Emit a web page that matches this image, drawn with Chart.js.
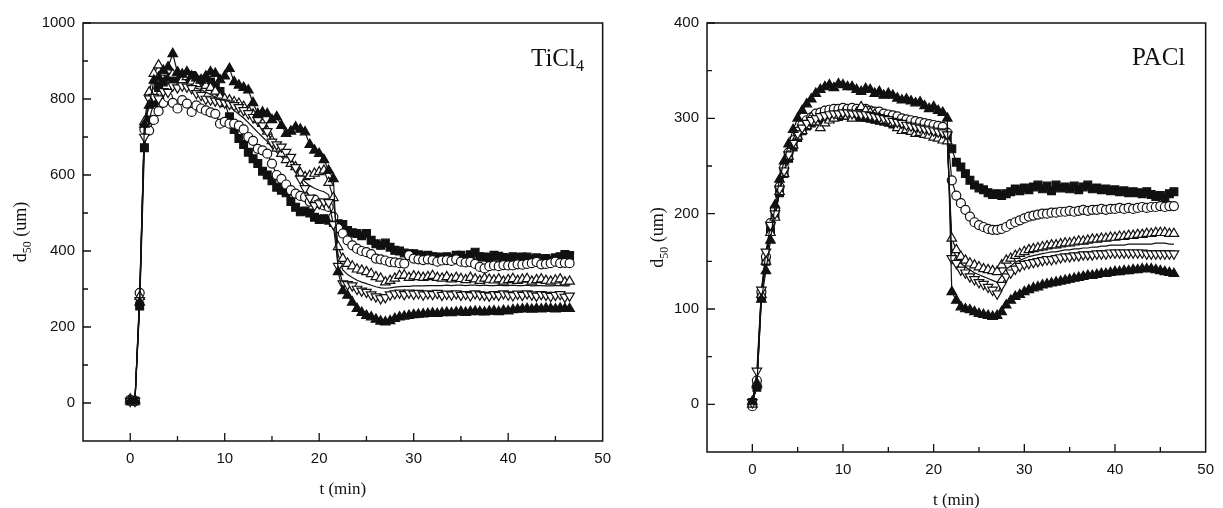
<!DOCTYPE html>
<html>
<head>
<meta charset="utf-8">
<script src="https://cdn.jsdelivr.net/npm/chart.js@4.4.1/dist/chart.umd.min.js"></script>
<style>
  html, body { margin: 0; padding: 0; background: #fff; }
  #wrap { position: relative; width: 1223px; height: 508px; }
  canvas { position: absolute; top: 0; }
</style>
</head>
<body>
<div id="wrap">
  <canvas id="leftChart" width="620" height="508" style="left:0"></canvas>
  <canvas id="rightChart" width="603" height="508" style="left:620px"></canvas>
</div>
<script>
// sampling times (min), shared by every series
const times = [
  0, 0.5, 1, 1.5, 2, 2.5, 3, 3.5, 4, 4.5,
  5, 5.5, 6, 6.5, 7, 7.5, 8, 8.5, 9, 9.5,
  10, 10.5, 11, 11.5, 12, 12.5, 13, 13.5, 14, 14.5,
  15, 15.5, 16, 16.5, 17, 17.5, 18, 18.5, 19, 19.5,
  20, 20.5, 21, 21.5, 22, 22.5, 23, 23.5, 24, 24.5,
  25, 25.5, 26, 26.5, 27, 27.5, 28, 28.5, 29, 29.5,
  30, 30.5, 31, 31.5, 32, 32.5, 33, 33.5, 34, 34.5,
  35, 35.5, 36, 36.5, 37, 37.5, 38, 38.5, 39, 39.5,
  40, 40.5, 41, 41.5, 42, 42.5, 43, 43.5, 44, 44.5,
  45, 45.5, 46, 46.5
];

// ---- TiCl4 (left panel), d50 in um ----
const tiSquare = [
  5, 5, 255, 672, 745, 790, 830, 845, 860, 850,
  845, 860, 850, 862, 845, 850, 840, 845, 830, 820,
  790, 753, 720, 696, 680, 660, 643, 630, 610, 600,
  585, 568, 560, 553, 530, 515, 503, 505, 500, 489,
  483, 485, 481, 475, 472, 470, 454, 448, 446, 440,
  446, 428, 419, 415, 421, 410, 402, 400, 395, 393,
  393, 390, 386, 389, 385, 384, 382, 385, 380, 389,
  389, 381, 390, 397, 385, 384, 383, 389, 386, 383,
  380, 385, 382, 384, 384, 378, 382, 379, 380, 376,
  382, 385, 391, 388
];
const tiCircle = [
  8, 5, 290, 720, 717, 745, 768, 790, 804, 790,
  775, 797, 788, 766, 783, 775, 770, 765, 761, 735,
  740, 735, 735, 730, 720, 700, 690, 669, 665, 656,
  630, 600, 590, 575, 560, 551, 545, 542, 530, 535,
  525, 520, 516, 490, 460, 446, 428, 415, 406, 400,
  397, 392, 380, 378, 375, 371, 370, 368, 367, 389,
  380, 378, 376, 378, 376, 372, 375, 376, 374, 378,
  372, 370, 371, 366, 358, 354, 360, 362, 360, 363,
  362, 362, 365, 364, 366, 368, 371, 365, 366, 368,
  372, 368, 369, 368
];
const tiUp = [
  10, 8, 280, 740, 818, 867, 889, 870, 875, 865,
  870, 850, 858, 845, 840, 850, 835, 830, 820, 805,
  800, 797, 792, 788, 780, 770, 760, 745, 735, 715,
  690, 670, 656, 640, 630, 621, 605, 595, 598, 604,
  608, 612, 580, 540, 411, 380, 367, 360, 352, 349,
  345, 340, 332, 328, 318, 322, 328, 335, 336, 330,
  334, 332, 330, 332, 335, 330, 328, 332, 326, 330,
  327, 324, 330, 326, 322, 328, 325, 323, 326, 320,
  324, 327, 322, 325, 327, 320, 324, 326, 322, 320,
  323, 326, 318, 320
];
const tiLine = [
  6, 6, 275, 720, 805, 830, 845, 850, 855, 850,
  848, 845, 840, 835, 828, 825, 818, 812, 805, 798,
  790, 780, 770, 760, 750, 738, 725, 712, 700, 688,
  672, 660, 648, 635, 622, 608, 595, 582, 572, 565,
  560, 556, 548, 480, 390, 350, 338, 330, 323, 318,
  314, 310, 306, 303, 302, 303, 305, 306, 307, 307,
  308, 308, 308, 309, 309, 309, 309, 310, 309, 310,
  310, 309, 310, 310, 309, 310, 309, 309, 310, 309,
  309, 310, 309, 309, 310, 308, 309, 309, 308, 308,
  309, 309, 308, 308
];
const tiDown = [
  5, 5, 270, 700, 801, 805, 801, 820, 818, 835,
  830, 835, 832, 828, 815, 810, 800, 798, 795, 792,
  790, 787, 783, 778, 770, 762, 752, 744, 730, 715,
  687, 680, 674, 660, 647, 620, 590, 565, 540, 520,
  525, 530, 528, 470, 360, 314, 312, 309, 300, 295,
  292, 285, 280, 275, 278, 285, 288, 290, 286, 290,
  287, 289, 285, 288, 286, 289, 284, 287, 285, 288,
  284, 286, 283, 288, 285, 284, 282, 286, 284, 288,
  285, 283, 287, 284, 288, 285, 282, 286, 284, 281,
  284, 286, 279, 282
];
const tiFilledUp = [
  5, 5, 265, 733, 783, 849, 857, 875, 884, 919,
  870, 865, 871, 860, 855, 849, 860, 871, 867, 850,
  860, 880, 845, 836, 830, 823, 790, 761, 765, 761,
  745, 753, 730, 709, 715, 726, 720, 713, 680, 665,
  656, 640, 612, 590, 345, 295, 283, 265, 248, 238,
  230, 226, 220, 215, 213, 216, 222, 226, 228, 230,
  232, 233, 234, 235, 236, 235, 237, 238, 237, 239,
  240, 238, 240, 241, 240, 239, 241, 242, 240, 243,
  242, 245, 246, 247, 248, 246, 248, 247, 249, 248,
  247, 249, 248, 248
];

// ---- PACl (right panel), d50 in um ----
const paSquare = [
  2, 18, 112, 150, 182, 198, 222, 242, 258, 270,
  280, 287, 292, 295, 297, 299, 300, 301, 302, 302,
  303, 303, 302, 302, 301, 301, 300, 299, 298, 297,
  296, 294, 293, 292, 290, 289, 288, 287, 286, 285,
  284, 283, 282, 280, 268, 254, 249, 242, 235, 230,
  227, 225, 222, 220, 221, 219, 221, 223, 226, 224,
  227, 225, 228, 230, 226, 229, 224, 230, 227, 228,
  226, 229, 225, 228, 230, 226, 227, 225, 226, 224,
  225, 223, 224, 222, 223, 222, 221, 223, 220, 218,
  219, 216, 221, 223
];
const paCircle = [
  -2, 25, 118, 155, 190, 205, 228, 248, 264, 277,
  286, 293, 298, 301, 305, 306, 308, 309, 310, 310,
  311, 310, 311, 310, 309, 310, 308, 307, 307, 305,
  304, 303, 302, 300, 299, 298, 297, 296, 295, 294,
  293, 292, 291, 285, 235, 219, 211, 204, 197, 191,
  188, 186, 184, 183, 183, 184, 186, 189, 191, 193,
  195, 197, 198, 199, 200, 200, 201, 201, 202, 202,
  203, 202, 203, 204, 203, 204, 204, 205, 204, 205,
  205, 206, 205, 206, 205, 206, 207, 206, 207, 207,
  208, 207, 208, 208
];
const paUp = [
  0, 22, 115, 150, 180, 196, 223, 242, 260, 272,
  281, 287, 292, 301, 296, 290, 295, 298, 300, 303,
  305, 302, 300, 306, 312, 308, 306, 304, 301, 298,
  298, 295, 290, 287, 288, 286, 284, 285, 283, 282,
  280, 279, 277, 276, 174, 162, 155, 151, 148, 146,
  144, 142, 141, 140, 139, 146, 151, 153, 156, 158,
  160, 162, 163, 164, 165, 166, 167, 167, 168, 169,
  169, 170, 171, 171, 172, 173, 173, 174, 174, 175,
  175, 176, 176, 177, 177, 178, 178, 179, 179, 180,
  180, 180, 179, 179
];
const paLine = [
  1, 28, 117, 155, 184, 198, 224, 244, 261, 273,
  282, 288, 293, 299, 298, 296, 299, 301, 302, 304,
  305, 304, 302, 305, 308, 306, 304, 303, 301, 299,
  298, 296, 293, 291, 290, 289, 287, 287, 286, 285,
  283, 282, 281, 279, 163, 155, 148, 144, 141, 138,
  136, 134, 132, 130, 128, 135, 142, 145, 149, 151,
  153, 155, 156, 157, 158, 159, 160, 160, 161, 162,
  162, 163, 163, 164, 164, 165, 165, 166, 166, 167,
  167, 167, 167, 168, 168, 168, 168, 168, 168, 169,
  169, 169, 168, 168
];
const paDown = [
  2, 35, 120, 160, 188, 200, 226, 245, 262, 274,
  284, 290, 295, 298, 300, 302, 303, 304, 305, 305,
  306, 306, 305, 305, 304, 304, 303, 302, 301, 300,
  299, 297, 296, 295, 293, 292, 291, 290, 289, 288,
  287, 286, 285, 283, 153, 148, 141, 138, 134, 131,
  128, 126, 123, 120, 116, 125, 134, 138, 142, 145,
  147, 148, 149, 150, 151, 152, 152, 153, 154, 155,
  155, 156, 156, 157, 157, 157, 158, 158, 158, 159,
  159, 159, 159, 159, 159, 159, 159, 158, 158, 158,
  158, 158, 158, 158
];
const paFilledUp = [
  3, 20, 110, 140, 172, 209, 236, 255, 273, 288,
  300, 308, 315, 320, 326, 330, 333, 335, 332, 336,
  335, 333, 333, 330, 328, 331, 330, 326, 328, 324,
  326, 324, 321, 319, 320, 318, 316, 317, 313, 310,
  312, 308, 306, 300, 118, 109, 102, 100, 99, 97,
  95, 94, 93, 92, 93, 97, 104, 109, 113, 115,
  118, 120, 122, 123, 125, 126, 127, 128, 129, 130,
  131, 132, 133, 134, 135, 135, 136, 137, 137, 138,
  139, 139, 140, 140, 141, 141, 142, 142, 142, 141,
  140, 139, 138, 137
];

// axis ticks
const xMajorTicks = [0, 10, 20, 30, 40, 50];
const xMinorTicks = [5, 15, 25, 35, 45];
const leftYMajor = [0, 200, 400, 600, 800, 1000];
const leftYMinor = [100, 300, 500, 700, 900];
const rightYMajor = [0, 100, 200, 300, 400];
const rightYMinor = [50, 150, 250, 350];

const INK = '#111';
const SERIF = '"Liberation Serif", "Times New Roman", serif';
const SANS = '"Liberation Sans", Arial, sans-serif';

function points(vals) {
  return times.map((t, i) => ({ x: t, y: vals[i] }));
}

function marker(vals, style, fill, rotation, radius) {
  return {
    data: points(vals),
    showLine: true,
    borderColor: INK,
    borderWidth: 1.2,
    pointStyle: style,
    pointRotation: rotation,
    pointRadius: radius,
    pointBackgroundColor: fill,
    pointBorderColor: INK,
    pointBorderWidth: 1.2
  };
}

function lineOnly(vals) {
  return { data: points(vals), showLine: true, borderColor: INK, borderWidth: 1.2, pointRadius: 0 };
}

// draws text with subscript parts, x is left edge or center
function richText(ctx, parts, x, y, size, center) {
  const big = size + 'px ' + SERIF;
  const small = Math.round(size * 0.65) + 'px ' + SERIF;
  let w = 0;
  parts.forEach(p => { ctx.font = p[1] ? small : big; w += ctx.measureText(p[0]).width; });
  let cx = center ? x - w / 2 : x;
  ctx.textAlign = 'left';
  ctx.textBaseline = 'alphabetic';
  parts.forEach(p => {
    ctx.font = p[1] ? small : big;
    ctx.fillText(p[0], cx, y + (p[1] ? size * p[2] : 0));
    cx += ctx.measureText(p[0]).width;
  });
}

const framePlugin = {
  id: 'frame',
  afterDraw(chart, args, o) {
    const { ctx, chartArea: a } = chart;
    const x = chart.scales.x, y = chart.scales.y;
    ctx.save();
    ctx.strokeStyle = INK;
    ctx.fillStyle = INK;
    ctx.lineWidth = 1.5;
    ctx.strokeRect(a.left, a.top, a.right - a.left, a.bottom - a.top);

    // inward tick marks
    ctx.lineWidth = 1.3;
    ctx.beginPath();
    xMajorTicks.forEach(v => {
      if (v >= 50) return;
      const px = x.getPixelForValue(v);
      ctx.moveTo(px, a.bottom); ctx.lineTo(px, a.bottom - 8);
    });
    xMinorTicks.forEach(v => {
      const px = x.getPixelForValue(v);
      ctx.moveTo(px, a.bottom); ctx.lineTo(px, a.bottom - 5);
    });
    o.yMajor.forEach(v => {
      const py = y.getPixelForValue(v);
      ctx.moveTo(a.left, py); ctx.lineTo(a.left + 8, py);
    });
    o.yMinor.forEach(v => {
      const py = y.getPixelForValue(v);
      ctx.moveTo(a.left, py); ctx.lineTo(a.left + 5, py);
    });
    ctx.stroke();

    // x title
    richText(ctx, [['t (min)']], (a.left + a.right) / 2, o.xTitleY, 17, true);

    // y title, rotated
    ctx.save();
    ctx.translate(o.yTitleX, (a.top + a.bottom) / 2);
    ctx.rotate(-Math.PI / 2);
    richText(ctx, [['d'], ['50', true, 0.28], [' (um)']], 0, 6, 18, true);
    ctx.restore();

    // panel label
    richText(ctx, o.label, o.labelX, o.labelY, 25, false);
    ctx.restore();
  }
};

function makeChart(id, cfg) {
  const datasets = [
    marker(cfg.filledUp, 'triangle', INK, 0, 5.5),
    marker(cfg.down, 'triangle', '#fff', 180, 5.5),
    marker(cfg.up, 'triangle', '#fff', 0, 5.5),
    marker(cfg.circle, 'circle', '#fff', 0, 4.5),
    lineOnly(cfg.line),
    marker(cfg.square, 'rect', INK, 0, 5.5)
  ];
  return new Chart(document.getElementById(id), {
    type: 'scatter',
    data: { datasets },
    options: {
      responsive: false,
      animation: false,
      devicePixelRatio: 1,
      layout: { padding: cfg.padding },
      plugins: {
        legend: { display: false },
        tooltip: { enabled: false },
        frame: {
          yMajor: cfg.yMajor, yMinor: cfg.yMinor,
          xTitleY: cfg.xTitleY, yTitleX: cfg.yTitleX,
          label: cfg.label, labelX: cfg.labelX, labelY: cfg.labelY
        }
      },
      scales: {
        x: {
          type: 'linear', min: -5, max: 50,
          grid: { display: false, drawTicks: false }, border: { display: false },
          ticks: { color: INK, font: { family: SANS, size: 15 }, padding: 9, maxRotation: 0,
                   callback: v => String(v) },
          afterBuildTicks: s => { s.ticks = xMajorTicks.map(v => ({ value: v })); },
          afterFit: s => { s.height = cfg.xHeight; }
        },
        y: {
          type: 'linear', min: cfg.yMin, max: cfg.yMax,
          grid: { display: false, drawTicks: false }, border: { display: false },
          ticks: { color: INK, font: { family: SANS, size: 15 }, padding: 8,
                   callback: v => String(v) },
          afterBuildTicks: s => { s.ticks = cfg.yMajor.map(v => ({ value: v })); },
          afterFit: s => { s.width = cfg.yWidth; }
        }
      }
    },
    plugins: [framePlugin]
  });
}

makeChart('leftChart', {
  square: tiSquare, circle: tiCircle, up: tiUp, line: tiLine, down: tiDown, filledUp: tiFilledUp,
  yMin: -100, yMax: 1000, yMajor: leftYMajor, yMinor: leftYMinor,
  padding: { left: 0, top: 23, right: 13, bottom: 0 },
  yWidth: 83, xHeight: 67,
  xTitleY: 494, yTitleX: 20,
  label: [['TiCl'], ['4', true, 0.2]], labelX: 531, labelY: 66
});

makeChart('rightChart', {
  square: paSquare, circle: paCircle, up: paUp, line: paLine, down: paDown, filledUp: paFilledUp,
  yMin: -50, yMax: 400, yMajor: rightYMajor, yMinor: rightYMinor,
  padding: { left: 0, top: 23, right: 10, bottom: 0 },
  yWidth: 87, xHeight: 56,
  xTitleY: 505, yTitleX: 37,
  label: [['PACl']], labelX: 512, labelY: 65
});
</script>
</body>
</html>
